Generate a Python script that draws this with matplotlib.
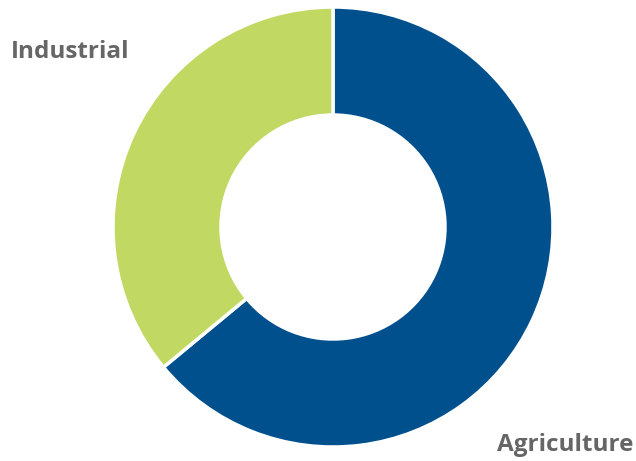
import matplotlib
matplotlib.use("Agg")
import matplotlib.pyplot as plt

# data
labels = ['Agriculture', 'Industrial']
shares = [64, 36]
colors = ['#00508E', '#C1D962']

fig = plt.figure(figsize=(6.36, 4.61), dpi=100)
ax = fig.add_axes([0, 0, 1, 1])

ax.pie(shares, colors=colors, startangle=90, counterclock=False,
       center=(333, 234), radius=220, frame=False,
       wedgeprops=dict(width=108, edgecolor='white', linewidth=2.5))

ax.set_xlim(0, 636)
ax.set_ylim(0, 461)
ax.set_aspect('equal')
ax.axis('off')

# slice labels
ax.text(70, 461 - 52, labels[1], fontsize=17.5, fontweight='bold', color='#666666',
        family='Open Sans', ha='center', va='center')
ax.text(565, 461 - 445, labels[0], fontsize=17.5, fontweight='bold', color='#666666',
        family='Open Sans', ha='center', va='center')

fig.savefig('out.png', dpi=100)
